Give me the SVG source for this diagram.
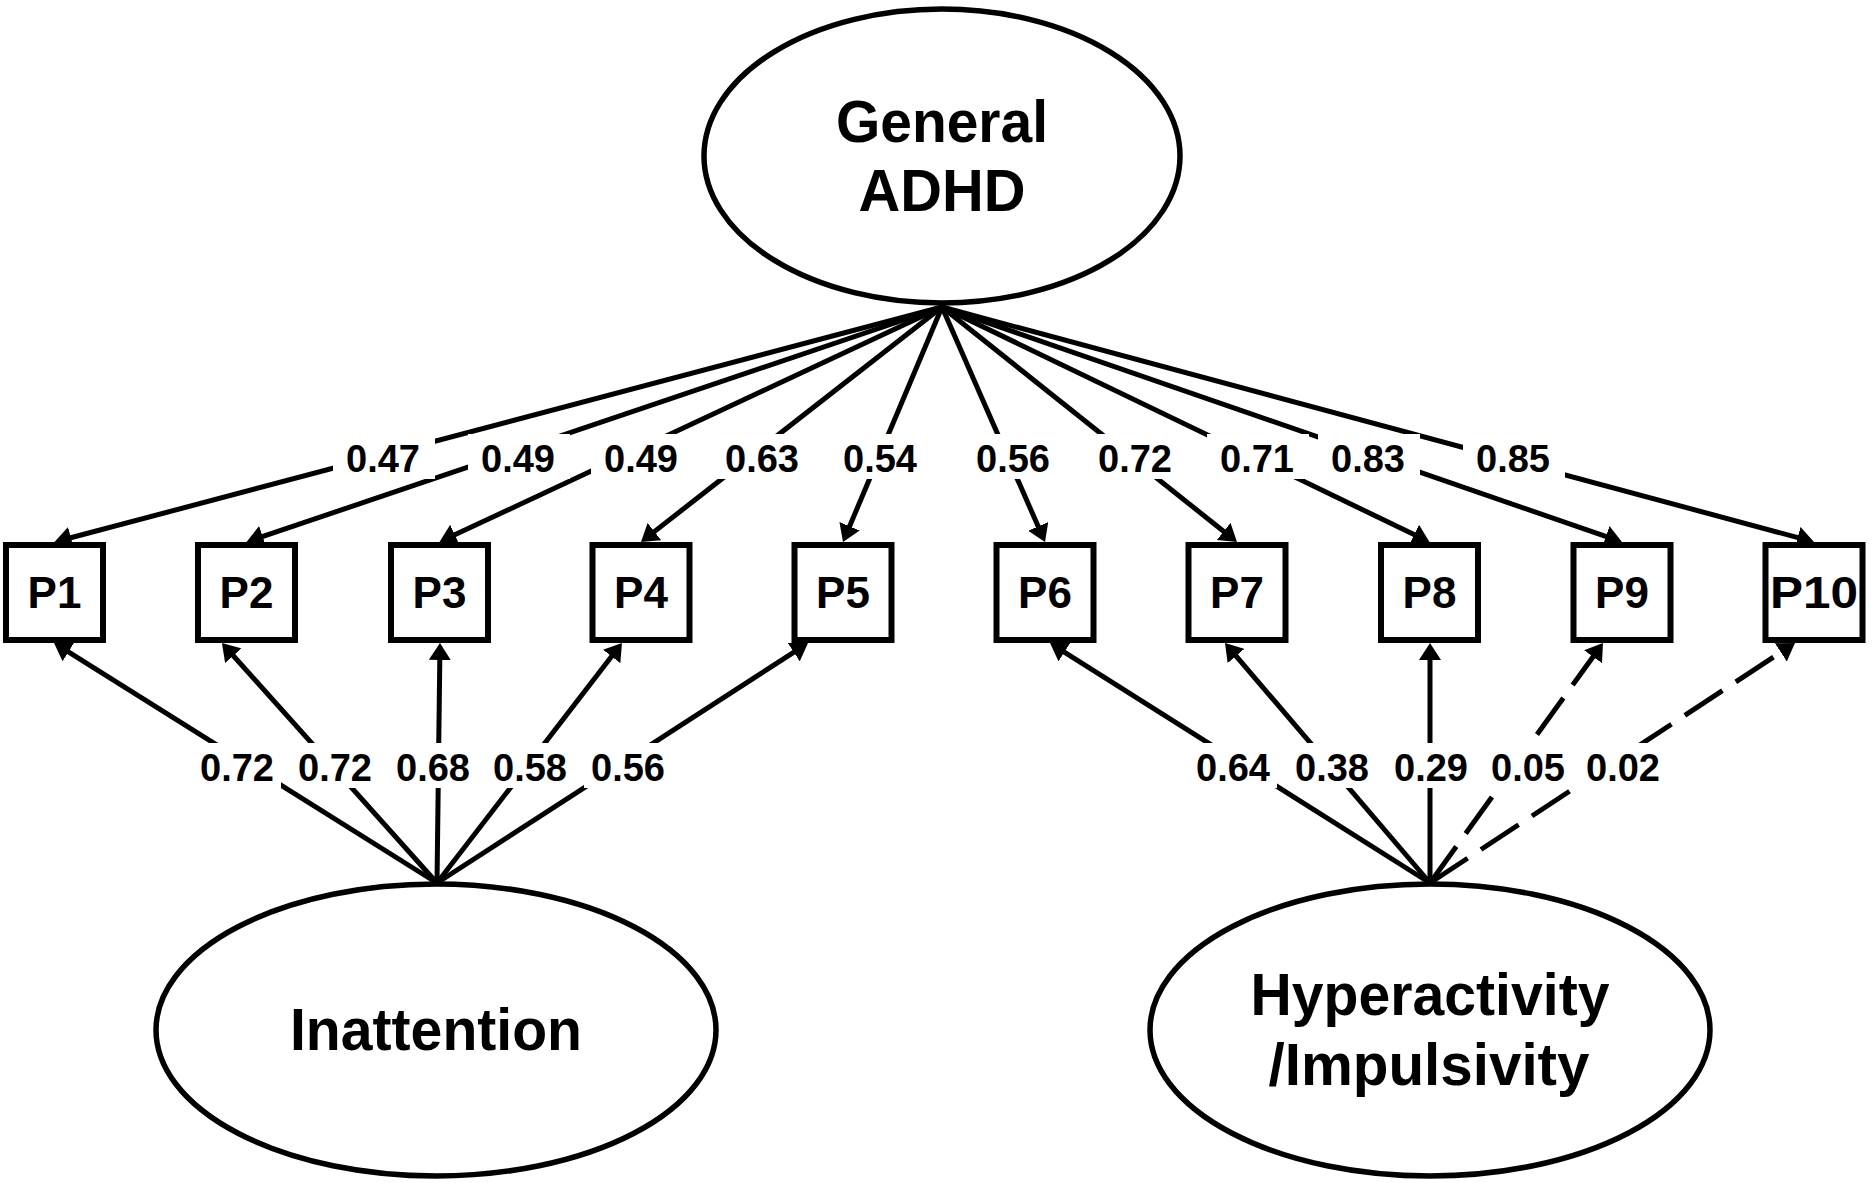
<svg xmlns="http://www.w3.org/2000/svg" width="1873" height="1183" viewBox="0 0 1873 1183">
<style>
.bg{fill:#fff}
.ell{fill:#fff;stroke:#000;stroke-width:5.5}
.box{fill:#fff;stroke:#000;stroke-width:6}
.ln{fill:none;stroke:#000;stroke-width:5;marker-end:url(#ah)}
.dash{stroke-dasharray:45 16}
.t{font-family:"Liberation Sans",Arial,Helvetica,sans-serif;font-weight:bold;fill:#000;text-anchor:middle}
.big{font-size:60px}
.pl{font-size:44px}
.num{font-size:38px}
.lb{fill:#fff}
</style>
<defs>
<marker id="ah" markerUnits="userSpaceOnUse" markerWidth="18" markerHeight="22" refX="9" refY="11" orient="auto">
<path d="M0,0 L17,11 L0,22 z" fill="#000"/>
</marker>
</defs>
<rect class="bg" x="0" y="0" width="1873" height="1183"/>

<g id="connectors">
<line class="ln" x1="942" y1="307" x2="62.2" y2="540.0"/>
<line class="ln" x1="942" y1="307" x2="254.1" y2="539.4"/>
<line class="ln" x1="942" y1="307" x2="446.7" y2="538.6"/>
<line class="ln" x1="942" y1="307" x2="647.3" y2="537.1"/>
<line class="ln" x1="942" y1="307" x2="846.1" y2="534.6"/>
<line class="ln" x1="942" y1="307" x2="1041.8" y2="534.7"/>
<line class="ln" x1="942" y1="307" x2="1230.7" y2="537.0"/>
<line class="ln" x1="942" y1="307" x2="1422.3" y2="538.5"/>
<line class="ln" x1="942" y1="307" x2="1614.4" y2="539.4"/>
<line class="ln" x1="942" y1="307" x2="1806.3" y2="539.9"/>

<line class="ln" x1="437" y1="883" x2="60.8" y2="647.2"/>
<line class="ln" x1="437" y1="883" x2="227.3" y2="649.0"/>
<line class="ln" x1="437" y1="883" x2="439.9" y2="651"/>
<line class="ln" x1="437" y1="883" x2="617.1" y2="649.3"/>
<line class="ln" x1="437" y1="883" x2="801.3" y2="647.3"/>

<line class="ln" x1="1430" y1="883" x2="1056.8" y2="647.3"/>
<line class="ln" x1="1430" y1="883" x2="1230.2" y2="649.1"/>
<line class="ln" x1="1430" y1="883" x2="1430" y2="651"/>
<line class="ln dash" x1="1430" y1="883" x2="1598.3" y2="649.5"/>
<line class="ln dash" x1="1430" y1="883" x2="1788.3" y2="647.4"/>

<g id="loading-labels">
<rect class="lb" x="333" y="434" width="102" height="45"/><text class="t num" x="383" y="472">0.47</text>
<rect class="lb" x="468" y="434" width="102" height="45"/><text class="t num" x="518" y="472">0.49</text>
<rect class="lb" x="591" y="434" width="102" height="45"/><text class="t num" x="641" y="472">0.49</text>
<rect class="lb" x="712" y="434" width="102" height="45"/><text class="t num" x="762" y="472">0.63</text>
<rect class="lb" x="830" y="434" width="102" height="45"/><text class="t num" x="880" y="472">0.54</text>
<rect class="lb" x="963" y="434" width="102" height="45"/><text class="t num" x="1013" y="472">0.56</text>
<rect class="lb" x="1085" y="434" width="102" height="45"/><text class="t num" x="1135" y="472">0.72</text>
<rect class="lb" x="1207" y="434" width="102" height="45"/><text class="t num" x="1257" y="472">0.71</text>
<rect class="lb" x="1318" y="434" width="102" height="45"/><text class="t num" x="1368" y="472">0.83</text>
<rect class="lb" x="1463" y="434" width="102" height="45"/><text class="t num" x="1513" y="472">0.85</text>

<rect class="lb" x="193" y="743" width="88" height="45"/><text class="t num" x="237" y="781">0.72</text>
<rect class="lb" x="291" y="743" width="88" height="45"/><text class="t num" x="335" y="781">0.72</text>
<rect class="lb" x="389" y="743" width="88" height="45"/><text class="t num" x="433" y="781">0.68</text>
<rect class="lb" x="486" y="743" width="88" height="45"/><text class="t num" x="530" y="781">0.58</text>
<rect class="lb" x="584" y="743" width="88" height="45"/><text class="t num" x="628" y="781">0.56</text>

<rect class="lb" x="1189" y="743" width="88" height="45"/><text class="t num" x="1233" y="781">0.64</text>
<rect class="lb" x="1288" y="743" width="88" height="45"/><text class="t num" x="1332" y="781">0.38</text>
<rect class="lb" x="1387" y="743" width="88" height="45"/><text class="t num" x="1431" y="781">0.29</text>
<rect class="lb" x="1484" y="743" width="88" height="45"/><text class="t num" x="1528" y="781">0.05</text>
<rect class="lb" x="1579" y="743" width="88" height="45"/><text class="t num" x="1623" y="781">0.02</text>
</g>
</g>

<g id="general">
<ellipse class="ell" cx="942" cy="156" rx="238" ry="147"/>
<text class="t big" x="942" y="142" textLength="212" lengthAdjust="spacingAndGlyphs">General</text>
<text class="t big" x="942" y="211" textLength="167" lengthAdjust="spacingAndGlyphs">ADHD</text>
</g>
<g id="inattention">
<ellipse class="ell" cx="436" cy="1030" rx="280" ry="146"/>
<text class="t big" x="436" y="1050" textLength="292" lengthAdjust="spacingAndGlyphs">Inattention</text>
</g>
<g id="hyperactivity">
<ellipse class="ell" cx="1430" cy="1030" rx="280" ry="146"/>
<text class="t big" x="1430" y="1015" textLength="359" lengthAdjust="spacingAndGlyphs">Hyperactivity</text>
<text class="t big" x="1429" y="1085" textLength="321" lengthAdjust="spacingAndGlyphs">/Impulsivity</text>
</g>

<g id="P1"><rect class="box" x="6" y="545" width="97" height="95"/><text class="t pl" x="54.5" y="608">P1</text></g>
<g id="P2"><rect class="box" x="198" y="545" width="97" height="95"/><text class="t pl" x="246.5" y="608">P2</text></g>
<g id="P3"><rect class="box" x="391" y="545" width="97" height="95"/><text class="t pl" x="439.5" y="608">P3</text></g>
<g id="P4"><rect class="box" x="592.5" y="545" width="97" height="95"/><text class="t pl" x="641" y="608">P4</text></g>
<g id="P5"><rect class="box" x="794.5" y="545" width="97" height="95"/><text class="t pl" x="843" y="608">P5</text></g>
<g id="P6"><rect class="box" x="996.5" y="545" width="97" height="95"/><text class="t pl" x="1045" y="608">P6</text></g>
<g id="P7"><rect class="box" x="1188.5" y="545" width="97" height="95"/><text class="t pl" x="1237" y="608">P7</text></g>
<g id="P8"><rect class="box" x="1381" y="545" width="97" height="95"/><text class="t pl" x="1429.5" y="608">P8</text></g>
<g id="P9"><rect class="box" x="1573.5" y="545" width="97" height="95"/><text class="t pl" x="1622" y="608">P9</text></g>
<g id="P10"><rect class="box" x="1765.5" y="545" width="97" height="95"/><text class="t pl" x="1814" y="608" textLength="88" lengthAdjust="spacingAndGlyphs">P10</text></g>
</svg>
